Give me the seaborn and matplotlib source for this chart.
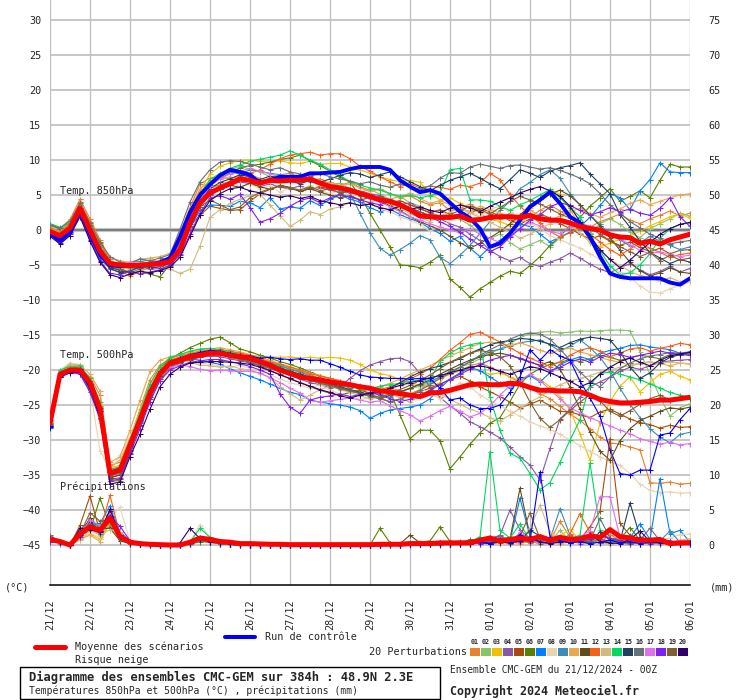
import numpy as np
import pandas as pd
import matplotlib
matplotlib.use("Agg")
import matplotlib.pyplot as plt
import seaborn as sns
from matplotlib.lines import Line2D
from matplotlib.patches import Rectangle

# ---------------- data ----------------
HOURS = list(range(0, 385, 6))
DAY_TICKS = list(range(0, 385, 24))
DAY_LABELS = ["21/12", "22/12", "23/12", "24/12", "25/12", "26/12", "27/12", "28/12", "29/12",
              "30/12", "31/12", "01/01", "02/01", "03/01", "04/01", "05/01", "06/01"]
MEMBER_IDS = ["01", "02", "03", "04", "05", "06", "07", "08", "09", "10",
              "11", "12", "13", "14", "15", "16", "17", "18", "19", "20"]
MEMBER_COLORS = ["#e8822f", "#88c46a", "#f0c000", "#8c56a8", "#a84c0c", "#5a8200", "#0080ff",
                 "#e8d4b0", "#3c8cb8", "#e8a850", "#604c1c", "#f86018", "#d0bc78", "#00d860",
                 "#204060", "#687078", "#e070f0", "#8020f0", "#806030", "#300070"]

# ---- 850 hPa temperature (deg C) ----
T850_MEAN = [-0.2, -0.8, 0.3, 3.1, 0.0, -3.0, -4.8, -5.0, -5.1, -5.0, -4.9, -4.8, -4.5, -2.8, 1.0, 3.9, 5.3,
             6.0, 6.6, 7.3, 7.1, 6.7, 7.1, 7.0, 7.1, 7.1, 7.3, 6.7, 6.2,
             6.0, 5.7, 5.2, 4.8, 4.3, 4.1, 3.6, 2.9, 2.0, 1.9, 1.8, 1.8,
             2.0, 1.4, 1.5, 1.8, 1.9, 1.9, 1.8, 2.1, 1.6, 1.4, 1.4, 1.0,
             0.5, 0.2, 0.0, -0.7, -1.0, -1.1, -1.9, -1.6, -2.0, -1.4, -1.0, -0.6]
T850_CTRL = [-0.5, -1.5, -0.3, 2.8, -0.5, -3.5, -5.0, -5.2, -5.0, -5.1, -5.0, -4.6, -4.0, -1.0, 2.5, 5.0, 6.5,
             7.8, 8.6, 8.3, 7.9, 6.7, 7.1, 7.6, 7.6, 7.6, 8.1, 8.1, 8.2,
             8.3, 8.7, 9.0, 9.0, 9.0, 8.6, 7.1, 6.2, 5.4, 5.7, 5.2, 3.9,
             2.6, 1.7, 0.2, -2.4, -1.9, -0.5, 1.4, 3.3, 4.3, 5.4, 3.8, 1.9,
             1.0, -1.0, -3.8, -6.2, -6.7, -6.9, -6.9, -6.9, -6.9, -7.5, -7.8, -6.9]
T850_01 = [0.6, 0.2, 1.5, 4.4, 1.6, -1.4, -4.2, -5.8, -6.6, -5.9, -5.3, -5.1, -3.6, -0.4, 3.2, 6.6, 7.4,
           7.6, 7.3, 7.7, 7.2, 6.9, 7.4, 7.9, 8.1, 7.5, 7.1, 7.3, 6.6,
           6.4, 6.8, 6.1, 5.7, 5.9, 5.2, 4.6, 4.9, 4.1, 3.6, 3.9, 2.8,
           3.1, 3.7, 2.9, 2.2, 1.6, 2.4, 1.3, 1.9, 2.8, 3.6, 2.7, 1.9,
           0.8, 0.4, 1.2, 1.7, 2.3, 1.4, 0.9, 1.6, 2.1, 2.7, 2.0, 2.4]
T850_02 = [0.2, -0.6, 0.4, 2.6, -0.2, -3.2, -5.2, -5.6, -4.9, -5.3, -4.8, -4.7, -4.9, -2.6, 1.4, 4.3, 6.2,
           7.9, 8.6, 9.1, 8.7, 8.3, 7.6, 7.4, 7.8, 7.1, 7.5, 6.9, 6.5,
           6.7, 5.9, 5.4, 5.8, 5.1, 4.4, 4.8, 3.9, 3.4, 2.6, 1.9, 2.4,
           1.5, 0.7, -0.4, -1.2, -0.6, -1.8, -2.7, -2.1, -1.5, -2.4, -1.1, -0.3,
           0.4, -0.5, 0.9, 1.6, 0.8, -0.3, -1.1, 0.2, 0.9, 1.6, 2.4, 2.0]
T850_03 = [0.0, -0.4, 0.8, 3.4, 0.5, -2.4, -4.6, -5.3, -5.6, -5.0, -4.6, -4.4, -4.2, -1.6, 2.6, 5.6, 8.0,
           9.1, 9.6, 9.9, 10.0, 9.8, 9.7, 9.9, 9.6, 9.5, 9.8, 9.4, 9.5,
           9.5, 9.0, 8.6, 8.1, 7.6, 7.2, 6.9, 7.1, 6.8, 5.2, 4.3, 4.6,
           3.8, 3.1, 2.4, 1.5, 1.2, 0.6, 1.9, 3.2, 4.5, 5.8, 5.1, 2.9,
           0.7, -1.6, -2.4, -1.9, -1.3, -0.8, -0.2, 0.6, 1.2, 1.9, 2.3, 1.7]
T850_04 = [-0.4, -1.3, -0.2, 2.2, -1.0, -3.8, -5.6, -6.0, -5.8, -5.4, -5.6, -5.5, -5.1, -3.4, 0.2, 3.3, 5.0,
           5.8, 6.4, 6.9, 6.6, 6.2, 6.6, 6.1, 5.9, 6.3, 5.8, 6.0, 5.7,
           5.4, 5.9, 5.6, 5.2, 4.9, 4.2, 3.6, 3.9, 3.1, 2.4, 1.6, 0.9,
           0.4, -0.6, -1.5, -2.9, -3.8, -4.4, -3.9, -4.8, -5.2, -4.6, -4.1, -3.3,
           -4.0, -4.9, -5.6, -6.1, -5.4, -4.8, -5.7, -6.4, -5.9, -5.2, -6.0, -5.5]
T850_05 = [-0.2, -0.9, 0.1, 2.9, -0.4, -3.1, -4.9, -5.4, -5.2, -4.8, -4.7, -4.9, -4.4, -2.9, 0.6, 2.1, 3.4,
           3.1, 2.8, 2.9, 4.1, 5.2, 5.8, 6.4, 6.1, 5.6, 5.9, 6.2, 5.8,
           5.3, 5.6, 5.1, 4.7, 4.4, 3.9, 4.2, 3.6, 3.0, 2.5, 2.9, 2.2,
           1.8, 2.4, 3.1, 2.6, 2.0, 1.4, 0.8, 1.6, 2.3, 1.7, 0.9, 0.2,
           -0.6, -1.3, -0.8, -1.6, -2.2, -1.7, -2.5, -3.1, -2.6, -3.4, -2.9, -2.8]
T850_06 = [0.8, 0.1, 0.9, 3.6, 0.7, -2.2, -4.6, -5.4, -6.2, -5.9, -6.3, -6.7, -4.9, -2.0, 1.9, 4.6, 6.4,
           7.4, 8.1, 8.9, 9.2, 9.4, 9.7, 10.1, 10.3, 10.7, 9.9, 9.2, 8.4,
           7.6, 6.8, 4.9, 2.4, 0.0, -2.4, -5.0, -5.1, -5.4, -4.6, -3.6, -7.0,
           -8.2, -9.6, -8.4, -7.5, -6.6, -5.9, -6.2, -5.1, -3.8, -2.2, -0.9, 0.6,
           1.8, 3.4, 4.6, 5.9, 4.1, 4.8, 5.6, 4.6, 7.1, 9.4, 9.0, 9.0]
T850_07 = [-0.6, -1.6, -0.4, 2.1, -1.2, -4.2, -5.4, -5.7, -5.3, -5.6, -5.2, -5.0, -4.7, -3.1, 0.4, 2.8, 3.6,
           3.5, 3.4, 4.1, 3.9, 3.2, 4.6, 3.0, 3.3, 3.1, 4.2, 3.5, 4.4,
           5.0, 4.4, 4.0, 3.2, 2.6, 3.0, 2.2, 1.6, 1.1, 0.2, -0.5, -1.6,
           -0.9, -2.6, -3.8, -2.4, -1.5, -0.4, 0.8, 0.5, -0.6, -1.7, -1.0, -0.3,
           0.5, 1.8, 3.5, 5.2, 4.6, 2.9, 5.6, 7.2, 9.6, 8.3, 8.2, 8.2]
T850_08 = [0.1, -0.5, 0.6, 2.7, 0.3, -2.6, -4.3, -4.9, -5.5, -4.8, -4.5, -4.3, -4.2, -2.2, 1.6, 4.1, 5.8,
           6.6, 6.9, 6.2, 6.5, 5.9, 6.3, 5.4, 6.0, 5.8, 6.4, 5.7, 5.2,
           5.6, 5.0, 4.4, 3.8, 3.0, 2.6, 1.9, 1.4, 0.8, -0.2, 0.6, 1.4,
           2.2, 2.8, 1.9, 3.0, 3.4, 2.5, 1.7, 0.9, 0.3, -0.8, -1.4, -2.0,
           -2.6, -3.4, -4.2, -5.3, -6.0, -6.8, -8.0, -8.9, -9.0, -8.4, -7.9, -7.4]
T850_09 = [-0.3, -1.1, 0.0, 2.5, -0.6, -3.6, -5.1, -5.4, -4.6, -4.5, -4.3, -4.6, -4.1, -1.9, 2.0, 4.9, 6.9,
           7.8, 8.3, 8.0, 8.6, 8.4, 8.1, 7.9, 7.5, 7.2, 6.9, 6.6, 6.2,
           5.6, 5.3, 2.4, -0.4, -2.6, -3.6, -2.8, -1.9, -0.8, -1.4, -3.9, -4.8,
           -3.6, -2.2, -0.5, 1.2, 2.8, 4.1, 5.9, 6.8, 7.9, 8.6, 7.4, 5.2,
           3.6, 2.1, 0.8, -0.6, -1.4, -2.3, -1.8, -0.9, -1.6, -2.2, -2.8, -2.4]
T850_10 = [0.4, -0.2, 1.2, 3.9, 0.9, -2.0, -3.9, -4.4, -4.6, -4.2, -4.0, -3.8, -3.3, -0.8, 2.9, 5.9, 7.0,
           7.3, 7.6, 7.2, 7.9, 7.4, 7.0, 7.6, 7.1, 6.9, 7.2, 6.6, 6.9,
           6.3, 6.6, 6.0, 5.5, 5.8, 5.1, 4.7, 5.3, 4.5, 3.8, 4.2, 3.6,
           3.2, 2.6, 3.4, 2.9, 2.4, 1.6, 2.2, 2.8, 2.1, 1.4, 2.0, 2.6,
           3.1, 2.4, 1.8, 2.5, 3.0, 3.8, 4.3, 3.6, 4.1, 4.6, 5.0, 5.2]
T850_11 = [-0.1, -0.7, 0.2, 3.0, -0.1, -3.3, -5.3, -5.8, -6.1, -5.6, -5.4, -5.2, -4.8, -2.9, 0.9, 3.6, 5.1,
           5.9, 6.4, 6.1, 6.7, 6.2, 5.8, 6.3, 6.0, 5.5, 5.9, 5.4, 5.0,
           4.6, 4.9, 4.3, 4.6, 4.1, 3.5, 2.8, 1.9, 1.2, 0.6, 0.0, -0.9,
           -1.8, -2.6, -1.9, -1.1, -0.2, 0.9, 2.1, 3.6, 4.4, 5.1, 5.7, 4.9,
           3.6, 2.1, 0.6, -1.1, -2.9, -4.6, -5.8, -6.6, -6.1, -5.4, -6.0, -6.2]
T850_12 = [0.3, -0.3, 0.9, 4.0, 1.2, -1.9, -4.4, -5.2, -5.5, -5.1, -5.0, -4.6, -3.9, -1.2, 2.8, 5.4, 6.1,
           6.4, 7.0, 7.6, 8.1, 8.6, 9.4, 10.2, 10.7, 10.9, 11.1, 10.7, 10.9,
           10.9, 10.2, 9.1, 8.4, 7.6, 6.9, 6.2, 6.6, 6.0, 6.3, 6.1, 5.8,
           6.4, 6.2, 6.7, 8.1, 7.2, 5.1, 3.4, 2.1, 1.0, -0.2, -1.0, -0.4,
           0.5, -0.6, -1.7, -2.8, -3.6, -2.7, -1.9, -2.6, -3.2, -3.9, -3.5, -3.3]
T850_13 = [0.2, -0.4, 0.7, 2.3, 0.4, -2.8, -4.6, -5.4, -5.6, -5.8, -5.2, -5.5, -5.6, -6.2, -5.6, -2.3, 1.8,
           2.9, 3.8, 4.4, 4.9, 5.1, 3.6, 2.0, 0.5, 1.4, 2.6, 2.2, 3.0,
           3.3, 3.9, 3.5, 4.0, 4.4, 3.7, 3.1, 2.3, 1.8, 1.2, 2.0, 2.6,
           3.1, 2.4, 1.8, 1.1, 0.4, -0.3, -1.2, -0.6, 0.2, 0.9, 1.6, 0.8,
           -0.4, -1.8, -3.0, -4.2, -5.1, -5.9, -6.5, -6.9, -7.3, -6.8, -7.4, -7.1]
T850_14 = [0.9, 0.4, 1.0, 3.5, 0.6, -2.3, -4.5, -5.1, -5.4, -5.2, -4.9, -4.6, -4.0, -2.0, 2.2, 5.2, 7.2,
           8.1, 8.8, 9.3, 9.8, 10.1, 10.4, 10.7, 11.3, 10.7, 10.0, 9.4, 8.6,
           7.8, 6.9, 6.4, 6.0, 5.7, 5.2, 4.8, 5.0, 4.6, 4.9, 5.3, 8.6,
           8.8, 4.3, 4.3, 4.1, 3.4, 2.8, 3.6, 4.2, 5.0, 5.8, 4.6, 3.2,
           1.9, -0.6, -3.0, -5.1, -6.4, -6.1, -5.0, -3.4, -1.2, 0.2, 0.8, 1.0]
T850_15 = [-0.5, -1.4, -0.3, 2.4, -0.8, -3.7, -5.5, -6.1, -5.9, -5.2, -5.3, -5.4, -4.6, -2.4, 1.3, 4.1, 5.9,
           6.8, 7.3, 7.9, 7.6, 7.2, 7.7, 7.4, 7.0, 6.6, 7.1, 6.8, 7.3,
           7.8, 8.2, 8.0, 7.5, 7.9, 8.3, 7.6, 6.9, 6.2, 5.6, 6.4, 7.1,
           7.6, 8.1, 7.4, 6.6, 5.9, 7.2, 8.6, 8.1, 7.5, 8.4, 8.9, 9.2,
           9.6, 8.0, 6.6, 5.2, 2.2, 0.4, -1.6, -3.2, -4.0, -4.8, -4.2, -4.6]
T850_16 = [0.7, 0.3, 1.3, 3.8, 1.0, -1.7, -3.8, -4.6, -4.8, -4.1, -4.4, -4.0, -3.5, 0.1, 4.0, 6.9, 8.6,
           9.7, 9.9, 9.8, 9.4, 9.0, 8.6, 8.9, 8.3, 8.0, 7.7, 8.1, 7.6,
           7.3, 7.0, 6.6, 6.9, 6.4, 6.1, 6.6, 6.2, 5.8, 6.3, 7.4, 8.2,
           8.1, 9.0, 9.4, 9.1, 8.8, 9.2, 9.3, 9.0, 8.7, 8.9, 8.5, 8.0,
           7.4, 6.6, 5.2, 3.6, 2.4, 1.2, 0.3, -0.6, -1.2, -2.0, -1.7, -1.5]
T850_17 = [-0.2, -0.8, 0.3, 3.3, 0.2, -2.7, -4.8, -5.0, -4.6, -4.9, -5.1, -5.3, -4.2, -2.1, 1.6, 4.2, 6.3,
           7.3, 8.0, 8.4, 8.8, 8.4, 8.0, 7.6, 7.8, 7.2, 7.5, 6.8, 6.4,
           5.9, 5.4, 5.0, 4.4, 4.0, 3.3, 2.6, 1.9, 1.4, 0.9, 0.4, 0.0,
           -0.4, 0.2, -0.6, -1.2, -1.8, -0.9, 0.3, 1.1, 0.6, -0.2, -0.5, 0.4,
           0.9, 0.6, 0.2, -0.4, -1.2, -2.1, -2.9, -3.4, -3.1, -3.5, -3.8, -3.6]
T850_18 = [-0.7, -1.9, -0.6, 2.0, -1.4, -4.4, -6.2, -6.4, -5.9, -6.3, -6.0, -5.7, -5.0, -3.6, -0.6, 2.4, 4.6,
           4.9, 4.4, 5.1, 3.2, 1.1, 1.6, 2.4, 3.4, 4.2, 4.6, 3.9, 4.6,
           5.1, 4.7, 4.3, 3.9, 3.6, 4.2, 3.7, 3.2, 2.6, 1.9, 1.2, 0.5,
           -0.3, -1.3, -2.2, -3.1, -2.4, -1.0, 0.2, 1.4, 2.2, 3.3, 3.9, 3.5,
           2.8, 2.1, 2.6, 3.2, 2.6, 3.0, 2.4, 2.1, 3.1, 4.6, 1.9, 0.5]
T850_19 = [0.0, -0.6, 0.5, 3.2, 0.1, -2.9, -4.7, -5.3, -5.0, -5.3, -4.9, -5.1, -4.3, -2.3, 1.2, 3.3, 4.3,
           3.6, 2.9, 3.3, 4.6, 5.4, 5.9, 6.3, 6.0, 5.7, 6.2, 5.6, 5.9,
           5.3, 5.5, 5.0, 4.5, 4.8, 4.1, 3.6, 3.0, 2.6, 2.1, 1.5, 2.2,
           2.8, 3.4, 2.9, 2.3, 3.2, 4.1, 4.8, 4.3, 3.7, 3.0, 2.3, 1.7,
           1.0, 0.3, -0.6, -1.5, -2.4, -3.1, -3.8, -3.2, -4.4, -3.6, -4.3, -4.0]
T850_20 = [-0.9, -2.0, -0.8, 1.9, -1.6, -4.6, -6.4, -6.8, -6.3, -5.9, -6.1, -5.8, -5.3, -3.9, -0.9, 2.1, 4.2,
           5.2, 5.9, 6.1, 5.6, 5.3, 5.0, 4.7, 4.9, 4.5, 4.8, 4.2, 3.9,
           3.6, 3.9, 3.5, 3.7, 3.2, 2.9, 3.4, 2.9, 3.3, 2.8, 2.5, 3.1,
           3.6, 3.2, 2.6, 3.4, 4.0, 4.6, 5.3, 5.8, 6.2, 5.6, 4.8, 3.4,
           1.2, -0.9, -2.8, -4.2, -5.4, -4.3, -3.0, -1.8, -0.6, 0.2, 0.8, 1.1]

# ---- 500 hPa temperature (deg C) ----
T500_MEAN = [-27.6, -20.6, -20.0, -20.0, -21.8, -25.5, -34.8, -34.3, -30.7, -27.1, -23.3, -20.5, -19.0, -18.6, -18.1, -17.9, -17.6,
             -17.6, -17.9, -18.1, -18.3, -18.8, -19.3, -20.0, -20.5, -21.0, -21.2, -21.4, -21.7,
             -21.9, -22.1, -22.4, -22.6, -23.0, -23.1, -23.4, -23.6, -23.8, -23.3, -23.2, -22.9,
             -22.5, -22.1, -22.0, -22.1, -22.1, -21.9, -22.0, -22.5, -22.9, -22.9, -23.0, -23.0,
             -23.1, -23.6, -24.2, -24.5, -24.7, -24.7, -24.6, -24.5, -24.3, -24.3, -24.1, -23.9]
T500_CTRL = [-28.0, -20.6, -20.0, -19.8, -22.0, -25.8, -34.5, -34.0, -30.5, -26.8, -22.8, -20.2, -18.8, -18.3, -17.8, -17.5, -17.2,
             -17.3, -17.6, -17.9, -18.0, -18.3, -18.2, -18.4, -18.5, -18.4, -18.6, -18.6, -19.1,
             -19.6, -20.2, -20.7, -21.0, -21.1, -21.2, -21.2, -21.3, -21.2, -21.2, -22.6, -24.3,
             -24.0, -25.0, -25.5, -25.5, -25.0, -23.2, -21.0, -17.1, -18.6, -17.1, -18.0, -18.6,
             -21.6, -24.0, -26.6, -31.4, -34.8, -35.0, -34.3, -34.3, -29.3, -29.0, -27.1, -25.5]
T500_01 = [-27.8, -20.4, -19.6, -19.8, -21.0, -23.6, -33.6, -33.2, -29.8, -25.6, -21.4, -19.3, -18.4, -17.9, -17.6, -17.3, -17.1,
           -17.0, -17.4, -17.7, -18.0, -18.4, -18.9, -19.4, -19.8, -20.2, -20.6, -21.3, -21.9,
           -21.6, -22.2, -22.8, -23.3, -23.1, -22.6, -22.9, -23.4, -22.8, -21.9, -21.2, -20.6,
           -20.1, -19.4, -19.0, -19.6, -20.2, -21.0, -21.8, -22.6, -23.4, -24.1, -25.2, -26.3,
           -27.2, -28.4, -29.6, -30.4, -30.6, -31.0, -31.4, -36.1, -36.2, -36.0, -36.3, -36.2]
T500_02 = [-27.4, -20.8, -20.1, -20.2, -22.3, -25.9, -35.1, -34.4, -30.2, -26.7, -22.9, -20.1, -18.7, -18.4, -18.0, -17.7, -17.4,
           -17.3, -17.6, -17.9, -18.1, -18.5, -18.9, -19.3, -19.8, -20.4, -20.9, -21.2, -21.6,
           -22.0, -22.4, -22.1, -22.5, -22.9, -23.3, -23.1, -22.7, -22.3, -21.8, -21.0, -20.4,
           -19.6, -19.1, -18.4, -17.6, -17.0, -16.2, -15.4, -14.8, -14.6, -14.5, -14.7, -14.6,
           -14.4, -14.5, -14.4, -14.3, -14.3, -14.4, -17.4, -20.6, -23.9, -26.6, -25.4, -24.8]
T500_03 = [-27.2, -20.2, -19.4, -19.6, -21.2, -24.8, -34.0, -33.6, -29.6, -25.8, -22.0, -19.6, -18.5, -18.2, -17.7, -17.4, -17.3,
           -17.2, -17.5, -17.6, -17.9, -18.0, -18.1, -18.2, -18.1, -18.3, -18.2, -18.3, -18.2,
           -18.3, -18.6, -19.2, -20.0, -20.5, -20.8, -21.4, -21.9, -22.1, -22.4, -21.8, -20.0,
           -20.2, -19.8, -20.1, -20.6, -20.4, -21.0, -21.5, -20.9, -21.3, -22.4, -23.8, -25.7,
           -29.1, -32.9, -27.6, -24.5, -22.3, -21.0, -23.1, -21.8, -20.6, -20.2, -20.9, -21.4]
T500_04 = [-27.9, -20.7, -20.2, -20.4, -22.6, -26.0, -35.3, -35.0, -31.2, -27.6, -23.9, -21.0, -19.5, -18.8, -18.5, -18.2, -18.0,
           -18.1, -18.4, -18.7, -19.0, -19.4, -19.8, -20.3, -20.7, -21.3, -21.8, -22.1, -22.5,
           -22.3, -21.2, -20.1, -19.3, -18.8, -18.4, -18.3, -18.8, -20.5, -22.4, -23.9, -25.1,
           -26.2, -27.4, -28.1, -28.9, -29.7, -31.0, -32.4, -33.6, -35.7, -31.2, -27.0, -25.6,
           -23.9, -22.4, -21.7, -21.0, -20.2, -19.6, -19.9, -19.4, -18.9, -18.7, -18.6, -18.5]
T500_05 = [-27.6, -20.5, -19.9, -20.1, -22.8, -26.9, -35.6, -35.4, -31.6, -28.0, -24.2, -21.3, -19.7, -19.0, -18.5, -18.1, -17.9,
           -17.8, -18.2, -18.5, -18.9, -19.4, -20.1, -20.6, -21.3, -21.8, -22.4, -22.9, -23.3,
           -23.6, -23.2, -22.8, -23.4, -24.0, -24.6, -24.1, -23.6, -23.1, -22.6, -22.0, -21.4,
           -20.9, -21.6, -22.4, -23.1, -23.8, -24.6, -25.4, -24.9, -24.3, -25.1, -25.9, -26.0,
           -26.4, -26.8, -26.0, -25.6, -26.3, -27.0, -27.5, -27.8, -28.3, -27.9, -28.2, -28.1]
T500_06 = [-27.3, -20.1, -19.8, -19.5, -21.5, -25.2, -35.9, -35.8, -31.8, -27.1, -22.6, -19.8, -18.4, -17.6, -16.8, -16.2, -15.6,
           -15.3, -16.1, -17.0, -17.4, -17.9, -18.3, -18.8, -19.2, -19.7, -20.3, -20.8, -21.2,
           -21.7, -22.0, -22.3, -22.5, -22.8, -23.1, -26.4, -29.8, -28.6, -28.6, -30.1, -34.1,
           -32.4, -30.6, -29.0, -27.6, -26.8, -24.5, -22.0, -20.6, -19.8, -19.2, -18.9, -18.5,
           -18.8, -18.4, -17.9, -18.2, -18.6, -18.3, -17.9, -18.1, -18.4, -17.8, -17.6, -17.9]
T500_07 = [-28.3, -21.0, -20.3, -20.5, -22.9, -26.4, -34.9, -34.6, -30.9, -27.3, -23.6, -20.9, -19.3, -18.8, -18.4, -18.6, -18.9,
           -19.2, -19.8, -20.4, -20.9, -21.4, -22.0, -22.6, -23.2, -23.5, -24.3, -24.6, -24.8,
           -25.0, -25.3, -25.8, -26.9, -26.2, -25.7, -25.5, -25.3, -25.0, -24.1, -22.6, -21.3,
           -20.4, -19.6, -20.1, -21.0, -21.9, -22.6, -21.4, -20.8, -21.7, -20.4, -19.2, -18.6,
           -18.1, -18.5, -17.6, -17.2, -16.9, -16.5, -16.4, -16.7, -16.9, -17.1, -17.6, -17.4]
T500_08 = [-27.9, -20.0, -19.0, -19.2, -22.6, -31.5, -34.4, -32.2, -29.5, -26.2, -22.3, -19.9, -18.9, -18.7, -18.8, -19.0, -19.2,
           -19.4, -19.6, -19.3, -19.8, -20.1, -20.6, -21.3, -21.8, -22.2, -22.6, -22.1, -22.9,
           -23.4, -23.8, -24.2, -24.0, -23.5, -22.8, -22.3, -22.0, -22.6, -23.4, -24.1, -23.0,
           -21.8, -22.4, -23.6, -24.4, -25.1, -25.9, -26.6, -27.4, -28.0, -28.5, -29.2, -30.0,
           -30.8, -31.6, -32.4, -33.1, -33.6, -34.8, -36.3, -37.2, -37.5, -37.4, -37.6, -37.5]
T500_09 = [-27.5, -20.6, -19.9, -19.9, -22.1, -25.7, -34.7, -34.2, -30.6, -27.0, -23.1, -20.4, -18.9, -18.3, -17.9, -17.6, -17.4,
           -17.5, -17.8, -18.0, -18.3, -18.6, -19.0, -19.4, -19.9, -20.3, -20.8, -21.2, -21.6,
           -22.1, -22.6, -22.3, -22.9, -23.4, -23.9, -23.2, -22.6, -22.1, -21.6, -21.0, -20.2,
           -19.6, -18.8, -18.1, -17.4, -17.0, -16.6, -16.1, -15.9, -15.7, -16.4, -17.3, -16.6,
           -15.7, -16.8, -18.2, -20.1, -22.6, -24.9, -26.8, -28.4, -29.6, -30.4, -29.2, -28.9]
T500_10 = [-27.2, -20.3, -19.2, -19.3, -20.6, -23.0, -33.2, -32.4, -28.6, -24.3, -20.2, -18.6, -18.1, -17.8, -17.4, -17.1, -17.0,
           -16.8, -17.1, -17.4, -17.8, -18.2, -18.6, -19.1, -19.5, -20.0, -20.4, -20.8, -21.3,
           -21.7, -22.1, -22.5, -22.8, -22.4, -21.9, -21.3, -20.6, -20.0, -19.4, -18.6, -18.0,
           -17.4, -16.8, -16.2, -16.0, -16.2, -16.5, -16.1, -16.6, -17.2, -17.6, -17.1, -16.9,
           -17.4, -17.8, -18.2, -18.6, -18.9, -19.3, -19.0, -18.8, -19.1, -19.4, -19.0, -19.2]
T500_11 = [-28.1, -20.9, -20.2, -20.1, -22.7, -26.5, -35.4, -35.0, -31.4, -27.8, -23.8, -20.9, -19.4, -18.9, -18.4, -18.0, -17.8,
           -17.7, -18.0, -18.4, -18.7, -19.1, -19.6, -20.1, -20.5, -21.0, -21.4, -21.9, -22.2,
           -22.6, -23.0, -23.3, -23.7, -24.1, -23.6, -23.1, -22.6, -22.0, -21.4, -20.6, -19.9,
           -19.2, -18.6, -18.1, -17.8, -17.6, -17.9, -18.4, -18.9, -19.3, -18.8, -19.9, -22.4,
           -25.6, -28.9, -31.6, -32.9, -30.1, -28.4, -27.2, -26.6, -25.9, -25.4, -25.6, -25.3]
T500_12 = [-27.7, -20.7, -19.8, -19.7, -21.9, -25.3, -34.2, -33.8, -30.2, -26.5, -22.6, -20.2, -18.7, -18.1, -17.7, -17.4, -17.2,
           -17.1, -17.3, -17.6, -17.9, -18.4, -18.8, -19.2, -19.6, -20.0, -20.5, -20.9, -21.2,
           -21.5, -21.9, -22.3, -22.6, -22.8, -22.4, -21.9, -21.3, -20.6, -19.8, -18.5, -17.2,
           -16.1, -14.9, -14.6, -15.3, -16.0, -16.8, -17.6, -18.3, -18.9, -19.5, -18.8, -17.9,
           -17.2, -16.8, -17.3, -18.1, -17.6, -17.0, -16.8, -17.3, -16.9, -16.6, -16.2, -16.4]
T500_13 = [-27.4, -20.2, -19.1, -19.6, -22.0, -27.5, -34.1, -32.8, -29.8, -26.2, -22.1, -19.8, -18.8, -18.5, -18.9, -19.3, -19.4,
           -19.6, -19.4, -19.8, -20.0, -20.5, -21.1, -22.4, -23.4, -24.3, -23.6, -22.8, -22.3,
           -22.8, -23.2, -23.7, -24.1, -23.8, -23.3, -24.0, -24.6, -23.7, -22.8, -23.4, -24.2,
           -24.9, -25.6, -26.1, -26.8, -27.3, -26.4, -25.5, -24.6, -23.8, -22.9, -22.1, -21.6,
           -21.2, -20.8, -20.3, -20.0, -19.6, -19.4, -19.1, -18.9, -19.2, -18.8, -19.0, -19.1]
T500_14 = [-27.1, -20.0, -19.5, -19.4, -21.2, -24.6, -34.3, -33.9, -30.0, -26.1, -22.0, -19.5, -18.2, -17.8, -17.3, -17.0, -16.9,
           -17.1, -17.4, -17.8, -18.3, -18.7, -19.0, -19.6, -20.1, -20.6, -21.1, -21.5, -21.9,
           -22.4, -22.8, -23.1, -22.7, -22.3, -22.1, -21.9, -21.6, -21.4, -21.4, -18.8, -17.6,
           -16.8, -16.4, -16.1, -23.9, -28.6, -31.9, -32.6, -34.8, -37.1, -36.1, -33.2, -30.0,
           -27.1, -22.1, -20.5, -20.3, -20.6, -21.0, -21.4, -22.0, -22.6, -23.2, -23.6, -23.9]
T500_15 = [-27.6, -20.6, -20.0, -20.0, -22.2, -25.4, -34.6, -34.5, -30.8, -27.2, -23.4, -20.6, -19.1, -18.5, -18.1, -17.8, -17.6,
           -17.6, -17.9, -18.2, -18.5, -18.8, -19.2, -19.7, -20.2, -20.6, -21.1, -21.5, -22.0,
           -22.4, -22.8, -23.2, -23.5, -23.2, -22.6, -21.8, -21.0, -20.3, -19.8, -19.4, -18.9,
           -18.4, -17.6, -17.0, -16.4, -16.0, -15.8, -15.5, -15.6, -15.9, -16.3, -16.8, -16.1,
           -15.6, -15.3, -15.5, -15.7, -17.4, -19.6, -21.2, -20.4, -19.0, -18.2, -17.8, -17.4]
T500_16 = [-27.9, -20.8, -20.1, -20.3, -22.5, -25.9, -35.0, -34.8, -31.0, -27.4, -23.4, -20.7, -19.2, -18.7, -18.3, -18.0, -17.8,
           -17.9, -18.1, -18.5, -18.8, -19.3, -19.7, -20.2, -20.6, -21.1, -21.5, -21.9, -22.3,
           -22.7, -23.0, -23.4, -23.8, -24.1, -24.5, -24.2, -23.6, -22.9, -22.1, -21.2, -20.4,
           -19.6, -18.8, -17.9, -17.1, -16.4, -15.6, -15.0, -14.7, -14.9, -15.6, -17.0, -18.6,
           -20.3, -21.6, -22.4, -21.0, -19.8, -19.0, -18.4, -18.0, -17.8, -17.5, -17.6, -17.7]
T500_17 = [-27.5, -20.4, -19.7, -19.8, -22.1, -25.6, -34.6, -34.0, -30.4, -26.8, -23.0, -20.6, -19.6, -19.3, -19.5, -19.9, -20.1,
           -20.0, -20.1, -20.2, -20.2, -20.4, -21.1, -21.8, -22.6, -23.3, -24.3, -24.6, -24.4,
           -24.2, -24.0, -24.3, -24.6, -24.4, -25.1, -25.8, -26.4, -27.3, -26.6, -25.8, -25.2,
           -25.9, -26.7, -26.2, -25.1, -23.6, -22.2, -21.4, -20.6, -21.5, -22.8, -24.1, -25.4,
           -26.1, -26.8, -27.4, -28.0, -28.6, -29.1, -29.8, -30.2, -30.6, -30.3, -30.7, -30.5]
T500_18 = [-28.0, -20.8, -20.3, -20.6, -23.2, -27.0, -35.8, -35.6, -32.0, -28.4, -24.5, -21.5, -20.0, -19.4, -18.9, -18.7, -18.5,
           -18.5, -18.8, -19.1, -19.5, -20.0, -20.6, -23.4, -25.3, -26.2, -24.3, -23.9, -23.7,
           -23.4, -23.8, -23.5, -23.2, -23.6, -24.1, -24.5, -24.2, -23.6, -22.9, -22.1, -21.3,
           -20.6, -19.9, -19.2, -18.6, -18.2, -17.9, -18.3, -18.8, -19.4, -20.1, -19.6, -18.9,
           -18.4, -18.9, -18.1, -17.6, -17.8, -18.2, -17.9, -17.6, -17.3, -17.6, -17.8, -17.9]
T500_19 = [-27.7, -20.6, -19.9, -20.0, -22.3, -25.5, -34.9, -34.5, -30.5, -26.9, -23.0, -20.3, -18.8, -18.4, -18.0, -17.7, -17.6,
           -17.6, -17.8, -18.2, -18.6, -19.0, -19.5, -19.9, -20.4, -20.9, -21.3, -21.7, -22.1,
           -22.5, -22.9, -23.3, -23.6, -23.9, -23.4, -22.8, -22.2, -21.5, -20.7, -19.8, -18.9,
           -18.2, -17.6, -17.2, -17.5, -18.1, -19.4, -21.8, -24.6, -26.9, -28.2, -27.1, -25.8,
           -24.6, -23.5, -24.4, -25.9, -26.6, -25.8, -24.9, -24.1, -23.6, -24.3, -23.9, -24.1]
T500_20 = [-28.2, -21.0, -20.4, -20.3, -22.6, -26.8, -36.3, -36.0, -32.4, -29.2, -25.6, -22.4, -20.6, -19.6, -19.0, -18.9, -18.8,
           -18.8, -18.9, -19.0, -19.2, -19.6, -20.1, -20.7, -21.2, -21.8, -22.3, -22.8, -23.2,
           -23.7, -24.0, -23.6, -23.3, -23.0, -22.6, -22.2, -21.8, -21.5, -21.1, -20.8, -20.4,
           -20.0, -19.6, -19.4, -19.7, -20.2, -20.6, -20.1, -19.5, -19.8, -20.4, -21.0, -21.6,
           -22.4, -21.8, -20.6, -19.6, -18.8, -18.3, -18.9, -19.4, -18.6, -18.0, -17.7, -17.5]

# ---- precipitation (mm) ----
RR_MEAN = [0.8, 0.5, 0.0, 1.6, 2.6, 2.1, 3.9, 1.2, 0.4, 0.2, 0.1, 0.05, 0.0, 0.0, 0.4, 1.0, 0.8,
           0.5, 0.4, 0.2, 0.2, 0.15, 0.1, 0.1, 0.05, 0.05, 0.05, 0.05, 0.05,
           0.05, 0.05, 0.05, 0.05, 0.1, 0.1, 0.1, 0.2, 0.2, 0.2, 0.3, 0.3,
           0.3, 0.3, 0.7, 1.0, 0.6, 0.8, 1.0, 0.8, 1.2, 0.7, 1.1, 0.8,
           0.9, 1.3, 1.1, 2.2, 1.2, 1.0, 0.7, 0.7, 0.8, 0.2, 0.3, 0.3]
RR_CTRL = [0.8, 0.5, 0.0, 1.5, 2.5, 2.0, 4.1, 1.1, 0.3, 0.2, 0.1, 0.0, 0.0, 0.0, 0.3, 0.8, 0.6,
           0.3, 0.2, 0.1, 0.0, 0.0, 0.0, 0.0, 0.0, 0.0, 0.0, 0.0, 0.0,
           0.0, 0.0, 0.0, 0.0, 0.0, 0.1, 0.0, 0.2, 0.1, 0.3, 0.2, 0.1,
           0.3, 0.2, 0.4, 0.2, 0.8, 0.4, 1.5, 0.6, 10.4, 1.2, 0.6, 0.3,
           0.5, 0.2, 0.4, 0.7, 0.3, 0.5, 0.2, 0.4, 0.6, 0.3, 0.2, 0.4]
RR_01 = [0.9, 0.3, 0.0, 1.2, 2.4, 1.5, 3.6, 1.0, 0.3, 0.2, 0.1, 0.0, 0.0, 0.0, 0.2, 0.6, 0.4,
         0.2, 0.1, 0.0, 0.0, 0.0, 0.0, 0.0, 0.0, 0.0, 0.0, 0.0, 0.0,
         0.0, 0.0, 0.0, 0.0, 0.1, 0.0, 0.1, 0.2, 0.3, 0.1, 0.0, 0.2,
         0.4, 0.1, 0.3, 0.8, 0.4, 1.2, 0.6, 0.3, 0.9, 0.5, 3.4, 1.1,
         0.4, 0.8, 0.3, 1.5, 0.6, 0.2, 0.4, 0.1, 0.3, 0.1, 0.2, 0.2]
RR_02 = [0.7, 0.6, 0.0, 1.8, 3.1, 1.2, 2.9, 0.9, 0.2, 0.1, 0.0, 0.0, 0.0, 0.0, 0.3, 0.9, 0.5,
         0.2, 0.1, 0.1, 0.0, 0.0, 0.0, 0.0, 0.0, 0.0, 0.0, 0.0, 0.0,
         0.0, 0.0, 0.0, 0.0, 0.0, 0.1, 0.0, 0.3, 0.5, 0.2, 0.1, 0.0,
         0.2, 0.5, 0.3, 0.1, 0.6, 0.3, 1.1, 0.4, 0.7, 0.4, 2.1, 0.6,
         0.3, 1.0, 0.5, 0.2, 0.8, 0.4, 0.1, 0.3, 0.6, 0.2, 0.1, 0.2]
RR_03 = [0.5, 0.4, 0.0, 0.9, 1.6, 0.8, 3.4, 0.6, 0.3, 0.1, 0.0, 0.0, 0.0, 0.0, 0.1, 0.7, 0.6,
         0.3, 0.2, 0.1, 0.0, 0.0, 0.0, 0.0, 0.0, 0.0, 0.0, 0.0, 0.0,
         0.0, 0.0, 0.0, 0.0, 0.0, 0.0, 0.2, 0.1, 0.4, 0.2, 0.3, 0.1,
         0.2, 0.6, 0.1, 0.4, 0.3, 0.7, 0.2, 0.5, 0.4, 0.9, 1.3, 2.3,
         0.6, 0.2, 0.8, 0.4, 0.3, 0.7, 0.2, 0.5, 0.1, 0.3, 0.2, 0.1]
RR_04 = [1.1, 0.3, 0.0, 2.2, 3.5, 2.6, 4.4, 1.6, 0.5, 0.2, 0.1, 0.0, 0.0, 0.0, 0.2, 1.1, 0.7,
         0.4, 0.2, 0.1, 0.1, 0.0, 0.0, 0.0, 0.0, 0.0, 0.0, 0.0, 0.0,
         0.0, 0.0, 0.0, 0.0, 0.1, 0.0, 0.0, 0.2, 0.1, 0.3, 0.2, 0.1,
         0.3, 0.1, 0.6, 0.9, 1.4, 5.0, 2.2, 0.8, 0.5, 0.3, 1.0, 0.6,
         0.2, 0.4, 0.9, 0.5, 0.3, 0.1, 0.4, 0.6, 0.2, 0.1, 0.3, 0.1]
RR_05 = [0.8, 0.5, 0.0, 2.8, 7.0, 1.8, 3.9, 0.8, 0.2, 0.1, 0.0, 0.0, 0.0, 0.0, 0.3, 0.8, 0.6,
         0.3, 0.1, 0.0, 0.0, 0.0, 0.0, 0.0, 0.0, 0.0, 0.0, 0.0, 0.0,
         0.0, 0.0, 0.0, 0.0, 0.0, 0.1, 0.0, 0.1, 0.2, 0.1, 0.3, 0.2,
         0.1, 0.4, 0.2, 0.3, 0.5, 0.2, 0.7, 0.4, 0.6, 0.3, 0.5, 1.2,
         0.8, 2.6, 4.8, 15.2, 3.1, 1.4, 0.6, 0.9, 0.4, 0.2, 0.1, 0.2]
RR_06 = [0.6, 0.4, 0.0, 1.4, 2.0, 6.7, 2.6, 1.1, 0.4, 0.2, 0.1, 0.0, 0.0, 0.0, 0.1, 0.5, 0.4,
         0.2, 0.1, 0.0, 0.0, 0.0, 0.0, 0.0, 0.0, 0.0, 0.0, 0.0, 0.0,
         0.0, 0.0, 0.0, 0.0, 2.4, 0.3, 0.1, 0.2, 0.4, 0.6, 2.6, 0.5,
         0.3, 0.8, 0.4, 0.2, 0.6, 0.3, 0.9, 0.5, 0.2, 0.4, 0.7, 0.3,
         0.5, 0.2, 0.6, 0.4, 0.9, 2.5, 0.7, 0.3, 0.2, 0.4, 0.1, 0.2]
RR_07 = [0.9, 0.2, 0.0, 1.9, 2.9, 3.1, 5.6, 1.9, 0.6, 0.3, 0.1, 0.0, 0.0, 0.0, 0.2, 0.9, 0.8,
         0.4, 0.2, 0.1, 0.0, 0.0, 0.0, 0.0, 0.0, 0.0, 0.0, 0.0, 0.0,
         0.0, 0.0, 0.0, 0.0, 0.0, 0.0, 0.1, 0.1, 0.2, 0.4, 0.1, 0.3,
         0.5, 0.2, 0.4, 0.9, 1.3, 0.6, 6.7, 1.2, 0.8, 0.4, 0.7, 0.3,
         0.6, 0.9, 0.4, 0.2, 0.5, 1.1, 3.0, 0.8, 9.5, 1.6, 2.1, 0.4]
RR_08 = [0.4, 0.3, 0.0, 1.0, 1.7, 1.1, 3.8, 5.4, 0.5, 0.2, 0.1, 0.0, 0.0, 0.0, 0.4, 2.9, 1.0,
         0.5, 0.3, 0.1, 0.0, 0.0, 0.0, 0.0, 0.0, 0.0, 0.0, 0.0, 0.0,
         0.0, 0.0, 0.0, 0.0, 0.0, 0.1, 0.0, 0.3, 0.6, 0.2, 0.4, 0.1,
         0.3, 0.2, 0.6, 0.4, 0.2, 0.5, 0.3, 0.8, 0.4, 0.6, 0.9, 0.5,
         0.3, 0.7, 0.4, 0.2, 0.4, 0.6, 0.3, 0.5, 0.8, 1.0, 1.5, 1.6]
RR_09 = [1.0, 0.5, 0.0, 1.6, 2.2, 2.4, 4.6, 1.3, 0.3, 0.2, 0.1, 0.0, 0.0, 0.0, 0.1, 0.7, 0.5,
         0.3, 0.1, 0.0, 0.0, 0.0, 0.0, 0.0, 0.0, 0.0, 0.0, 0.0, 0.0,
         0.0, 0.0, 0.0, 0.0, 0.0, 0.0, 0.1, 0.0, 0.2, 0.1, 0.3, 0.2,
         0.5, 0.3, 0.7, 0.4, 0.9, 0.3, 1.6, 0.6, 1.1, 0.8, 5.2, 1.4,
         0.5, 0.9, 0.3, 0.6, 1.2, 0.4, 0.7, 0.3, 0.6, 2.0, 0.4, 0.2]
RR_10 = [0.8, 0.6, 0.0, 0.8, 1.4, 0.5, 3.1, 0.7, 0.2, 0.1, 0.0, 0.0, 0.0, 0.0, 0.2, 0.6, 0.5,
         0.2, 0.1, 0.0, 0.0, 0.0, 0.0, 0.0, 0.0, 0.0, 0.0, 0.0, 0.0,
         0.0, 0.0, 0.0, 0.0, 0.0, 0.0, 0.0, 0.1, 0.3, 0.1, 0.2, 0.0,
         0.1, 0.3, 0.2, 0.5, 1.0, 0.4, 0.2, 0.6, 0.3, 0.5, 0.2, 0.4,
         0.7, 0.3, 0.5, 0.2, 0.4, 0.2, 0.6, 0.3, 0.1, 0.3, 0.2, 0.4]
RR_11 = [1.2, 0.4, 0.0, 1.3, 3.9, 2.3, 2.4, 0.6, 0.2, 0.1, 0.0, 0.0, 0.0, 0.0, 0.1, 0.6, 0.4,
         0.2, 0.1, 0.0, 0.0, 0.0, 0.0, 0.0, 0.0, 0.0, 0.0, 0.0, 0.0,
         0.0, 0.0, 0.0, 0.0, 0.1, 0.3, 0.2, 1.4, 0.3, 0.1, 0.2, 0.4,
         0.2, 0.6, 0.3, 1.1, 0.6, 0.9, 8.1, 1.3, 0.5, 0.3, 0.8, 0.4,
         0.6, 0.2, 0.5, 0.3, 0.7, 0.4, 0.2, 0.5, 0.3, 0.2, 0.6, 0.4]
RR_12 = [0.7, 0.3, 0.0, 1.5, 2.3, 1.9, 7.1, 1.4, 0.4, 0.2, 0.1, 0.0, 0.0, 0.0, 0.2, 0.8, 0.6,
         0.3, 0.1, 0.0, 0.0, 0.0, 0.0, 0.0, 0.0, 0.0, 0.0, 0.0, 0.0,
         0.0, 0.0, 0.0, 0.0, 0.0, 0.0, 0.1, 0.2, 0.1, 0.3, 0.2, 0.6,
         0.4, 0.2, 0.8, 0.5, 1.1, 0.4, 0.7, 0.3, 0.6, 0.9, 0.4, 1.6,
         4.5, 1.8, 0.7, 0.5, 0.9, 0.3, 0.2, 0.4, 0.6, 0.3, 0.5, 0.7]
RR_13 = [0.5, 0.6, 0.0, 0.7, 2.1, 1.4, 2.2, 1.8, 0.5, 0.2, 0.1, 0.0, 0.0, 0.0, 0.3, 1.2, 0.8,
         0.5, 0.2, 0.1, 0.0, 0.0, 0.0, 0.0, 0.0, 0.0, 0.0, 0.0, 0.0,
         0.0, 0.0, 0.0, 0.0, 0.1, 0.0, 0.3, 0.5, 0.2, 0.4, 0.1, 0.3,
         0.6, 0.3, 0.9, 0.5, 0.8, 1.2, 0.6, 2.4, 5.7, 1.8, 0.9, 0.4,
         0.7, 0.3, 0.5, 0.2, 0.4, 0.6, 0.3, 0.5, 0.2, 0.4, 0.7, 0.9]
RR_14 = [0.9, 0.4, 0.0, 2.0, 2.6, 2.9, 4.2, 1.2, 0.3, 0.2, 0.1, 0.0, 0.0, 0.0, 0.4, 2.4, 1.1,
         0.5, 0.2, 0.1, 0.0, 0.0, 0.0, 0.0, 0.0, 0.0, 0.0, 0.0, 0.0,
         0.0, 0.0, 0.0, 0.0, 0.0, 0.1, 0.2, 0.4, 0.3, 0.1, 0.5, 0.2,
         0.6, 0.4, 1.2, 13.3, 2.1, 1.0, 3.0, 0.7, 0.4, 0.8, 0.5, 0.9,
         1.4, 11.7, 2.2, 0.6, 0.3, 0.5, 0.2, 0.4, 0.2, 0.3, 0.1, 0.2]
RR_15 = [0.6, 0.5, 0.0, 1.7, 3.3, 2.0, 4.9, 1.5, 0.4, 0.2, 0.1, 0.0, 0.0, 0.0, 0.2, 0.7, 0.6,
         0.3, 0.1, 0.0, 0.0, 0.0, 0.0, 0.0, 0.0, 0.0, 0.0, 0.0, 0.0,
         0.0, 0.0, 0.0, 0.0, 0.0, 0.1, 0.0, 0.1, 0.3, 0.2, 0.1, 0.4,
         0.2, 0.5, 0.3, 0.7, 0.4, 1.0, 0.6, 2.1, 1.3, 0.5, 0.8, 0.3,
         0.6, 0.4, 1.9, 0.7, 0.5, 6.0, 1.2, 0.4, 0.3, 0.6, 0.2, 0.4]
RR_16 = [1.4, 0.5, 0.0, 1.9, 2.8, 1.6, 3.3, 0.9, 0.2, 0.1, 0.0, 0.0, 0.0, 0.0, 0.1, 0.6, 0.5,
         0.2, 0.1, 0.0, 0.0, 0.0, 0.0, 0.0, 0.0, 0.0, 0.0, 0.0, 0.0,
         0.0, 0.0, 0.0, 0.0, 0.0, 0.0, 0.1, 0.0, 0.2, 0.1, 0.0, 0.3,
         0.1, 0.2, 0.4, 0.2, 0.5, 0.3, 0.6, 0.4, 0.8, 0.3, 0.5, 0.9,
         0.4, 0.6, 3.8, 1.0, 0.5, 0.3, 0.7, 2.4, 0.6, 0.3, 0.2, 0.4]
RR_17 = [0.8, 0.3, 0.0, 1.4, 3.6, 2.7, 4.5, 1.0, 0.3, 0.1, 0.0, 0.0, 0.0, 0.0, 0.2, 0.9, 0.6,
         0.3, 0.2, 0.1, 0.0, 0.0, 0.0, 0.0, 0.0, 0.0, 0.0, 0.0, 0.0,
         0.0, 0.0, 0.0, 0.0, 0.0, 0.1, 0.0, 0.2, 0.1, 0.3, 0.2, 0.1,
         0.4, 0.2, 0.6, 0.3, 0.5, 0.4, 1.8, 0.6, 0.3, 0.8, 0.4, 0.7,
         1.2, 2.0, 6.9, 6.9, 1.1, 0.6, 0.3, 0.5, 0.2, 0.4, 0.6, 0.3]
RR_18 = [0.5, 0.4, 0.0, 1.1, 2.4, 2.0, 4.0, 2.7, 0.6, 0.3, 0.1, 0.0, 0.0, 0.0, 0.3, 0.8, 0.7,
         0.4, 0.2, 0.1, 0.0, 0.0, 0.0, 0.0, 0.0, 0.0, 0.0, 0.0, 0.0,
         0.0, 0.0, 0.0, 0.0, 0.0, 0.0, 0.2, 0.1, 0.3, 0.5, 0.2, 0.1,
         0.3, 0.6, 0.2, 0.4, 0.7, 0.3, 0.5, 0.9, 0.4, 0.2, 0.6, 0.3,
         0.5, 0.8, 1.2, 1.0, 0.6, 0.3, 0.5, 0.2, 0.4, 0.6, 0.3, 0.2]
RR_19 = [0.7, 0.6, 0.0, 1.6, 4.6, 3.4, 3.6, 1.2, 0.3, 0.1, 0.0, 0.0, 0.0, 0.0, 0.2, 0.7, 0.5,
         0.3, 0.1, 0.0, 0.0, 0.0, 0.0, 0.0, 0.0, 0.0, 0.0, 0.0, 0.0,
         0.0, 0.0, 0.0, 0.0, 0.1, 0.0, 0.2, 0.1, 0.2, 0.4, 0.1, 0.3,
         0.5, 0.2, 0.4, 0.6, 0.3, 0.8, 1.2, 4.6, 0.9, 0.4, 0.6, 0.3,
         0.7, 0.5, 0.3, 0.8, 0.4, 0.2, 0.6, 0.3, 0.5, 0.3, 0.2, 0.4]
RR_20 = [1.0, 0.4, 0.0, 2.4, 2.2, 1.8, 5.1, 1.4, 0.4, 0.2, 0.1, 0.0, 0.0, 0.3, 2.4, 0.9, 0.5,
         0.3, 0.2, 0.1, 0.0, 0.0, 0.0, 0.0, 0.0, 0.0, 0.0, 0.0, 0.0,
         0.0, 0.0, 0.0, 0.0, 0.0, 0.1, 0.0, 0.3, 0.2, 0.1, 0.4, 0.2,
         0.1, 0.3, 0.5, 0.2, 0.4, 0.3, 0.6, 0.9, 0.5, 0.2, 0.4, 0.7,
         0.6, 1.6, 0.5, 0.3, 0.2, 0.8, 2.0, 0.5, 0.3, 0.2, 0.1, 0.3]

T850_MEMBERS = [T850_01, T850_02, T850_03, T850_04, T850_05, T850_06, T850_07, T850_08, T850_09, T850_10,
                T850_11, T850_12, T850_13, T850_14, T850_15, T850_16, T850_17, T850_18, T850_19, T850_20]
T500_MEMBERS = [T500_01, T500_02, T500_03, T500_04, T500_05, T500_06, T500_07, T500_08, T500_09, T500_10,
                T500_11, T500_12, T500_13, T500_14, T500_15, T500_16, T500_17, T500_18, T500_19, T500_20]
RR_MEMBERS = [RR_01, RR_02, RR_03, RR_04, RR_05, RR_06, RR_07, RR_08, RR_09, RR_10,
              RR_11, RR_12, RR_13, RR_14, RR_15, RR_16, RR_17, RR_18, RR_19, RR_20]

for grp_name, grp in (("T850", T850_MEMBERS + [T850_MEAN, T850_CTRL]),
                      ("T500", T500_MEMBERS + [T500_MEAN, T500_CTRL]),
                      ("RR", RR_MEMBERS + [RR_MEAN, RR_CTRL])):
    for k, s in enumerate(grp):
        if len(s) != len(HOURS):
            raise ValueError(f"{grp_name} series {k} has {len(s)} values")

# ---------------- figure ----------------
sns.set_style("white")
plt.rcParams["font.family"] = ["DejaVu Sans Mono"]
FS = 7.3

W, H = 740, 700
fig = plt.figure(figsize=(W / 100, H / 100), dpi=100, facecolor="white")


def fx(x):
    return x / W


def fy(y):
    return 1 - y / H


ax = fig.add_axes([fx(50), fy(585), fx(690) - fx(50), fy(0) - fy(585)])
YMIN = -45 - 40 / 7
YMAX = 30 + 20 / 7
ax.set_xlim(0, 384)
ax.set_ylim(YMIN, YMAX)
ax.set_yticks(list(range(-45, 31, 5)))
ax.set_xticks(DAY_TICKS)
ax.set_xticklabels(DAY_LABELS)
ax.yaxis.grid(True, color="#c0c0c0", lw=1.25)
ax.xaxis.grid(True, color="#c0c0c0", lw=0.95)
ax.set_axisbelow(True)
for sp in ("left", "right", "top"):
    ax.spines[sp].set_visible(False)
ax.spines["bottom"].set_color("black")
ax.spines["bottom"].set_linewidth(1.1)
ax.tick_params(axis="y", length=0, pad=6.3, labelsize=FS)
ax.tick_params(axis="x", length=0, pad=10, labelsize=FS, labelrotation=90)
ax.set_xlabel("")
ax.set_ylabel("")

# 0 deg C line at 850 hPa
ax.axhline(0, color="#c4c4c4", lw=3.0, zorder=1)
ax.axhline(0, color="#7c7c7c", lw=1.4, zorder=1.1)

# precipitation axis (right): 0 mm aligned with -45 deg C
ax2 = ax.twinx()
ax2.set_ylim(YMIN + 45, YMAX + 45)
ax2.set_yticks(list(range(0, 76, 5)))
for sp in ax2.spines.values():
    sp.set_visible(False)
ax2.tick_params(axis="y", length=0, pad=13.5, labelsize=FS)
ax2.set_ylabel("")

pert_kw = dict(lw=0.8, marker="+", markersize=3.6, markeredgewidth=0.75, estimator=None, sort=False)

for series, col in zip(T850_MEMBERS, MEMBER_COLORS):
    sns.lineplot(x=HOURS, y=series, ax=ax, color=col, markeredgecolor=col, zorder=3, **pert_kw)
for series, col in zip(T500_MEMBERS, MEMBER_COLORS):
    sns.lineplot(x=HOURS, y=series, ax=ax, color=col, markeredgecolor=col, zorder=3, **pert_kw)
for series, col in zip(RR_MEMBERS, MEMBER_COLORS):
    sns.lineplot(x=HOURS, y=series, ax=ax2, color=col, markeredgecolor=col, zorder=3, **pert_kw)

# control run
sns.lineplot(x=HOURS, y=T850_CTRL, ax=ax, color="#0000ff", lw=2.8, estimator=None, sort=False, zorder=5)
sns.lineplot(x=HOURS, y=T500_CTRL, ax=ax, color="#0000ff", markeredgecolor="#0000ff", zorder=5, **pert_kw)
sns.lineplot(x=HOURS, y=RR_CTRL, ax=ax2, color="#0000ff", markeredgecolor="#0000ff", zorder=5, **pert_kw)

# ensemble mean
for series, axx in ((T850_MEAN, ax), (T500_MEAN, ax), (RR_MEAN, ax2)):
    sns.lineplot(x=HOURS, y=series, ax=axx, color="#ff0000", lw=3.6, estimator=None, sort=False, zorder=6)

ax.set_xlabel("")
ax.set_ylabel("")
ax2.set_ylabel("")

# ---------------- annotations ----------------
fig.text(fx(60), fy(191), "Temp. 850hPa", fontsize=FS, va="center", ha="left")
fig.text(fx(60), fy(355), "Temp. 500hPa", fontsize=FS, va="center", ha="left")
fig.text(fx(60), fy(487), "Précipitations", fontsize=FS, va="center", ha="left")
fig.text(fx(5), fy(587), "(°C)", fontsize=FS, va="center", ha="left")
fig.text(fx(710), fy(587), "(mm)", fontsize=FS, va="center", ha="left")

# legend
fig.add_artist(Line2D([fx(35), fx(65)], [fy(647), fy(647)], color="#ff0000", lw=3.6))
fig.text(fx(75), fy(647), "Moyenne des scénarios", fontsize=FS, va="center", ha="left")
fig.text(fx(75), fy(660), "Risque neige", fontsize=FS, va="center", ha="left")
fig.add_artist(Line2D([fx(225), fx(255)], [fy(637), fy(637)], color="#0000ff", lw=2.9))
fig.text(fx(265), fy(637), "Run de contrôle", fontsize=FS, va="center", ha="left")
fig.text(fx(369), fy(652), "20 Perturbations", fontsize=FS, va="center", ha="left")
for k, (mid, col) in enumerate(zip(MEMBER_IDS, MEMBER_COLORS)):
    x0 = 470 + 10.95 * k
    fig.add_artist(Rectangle((fx(x0), fy(656)), 10 / W, 8 / H, transform=fig.transFigure,
                             facecolor=col, edgecolor="none"))
    fig.text(fx(x0 + 5), fy(642.5), mid, fontsize=4.8, fontweight="bold", va="center", ha="center")

# title box
fig.add_artist(Rectangle((fx(20), fy(699)), 420 / W, 32 / H, transform=fig.transFigure,
                         facecolor="none", edgecolor="black", lw=1.0))
fig.text(fx(29), fy(677), "Diagramme des ensembles CMC-GEM sur 384h : 48.9N 2.3E",
         fontsize=8.7, fontweight="bold", va="center", ha="left")
fig.text(fx(29), fy(691), "Températures 850hPa et 500hPa (°C) , précipitations (mm)",
         fontsize=7.0, va="center", ha="left")
fig.text(fx(450), fy(670), "Ensemble CMC-GEM du 21/12/2024 - 00Z", fontsize=6.9, va="center", ha="left")
fig.text(fx(450), fy(691), "Copyright 2024 Meteociel.fr", fontsize=8.4, fontweight="bold",
         va="center", ha="left")

fig.savefig("out.png", dpi=100, facecolor="white")
